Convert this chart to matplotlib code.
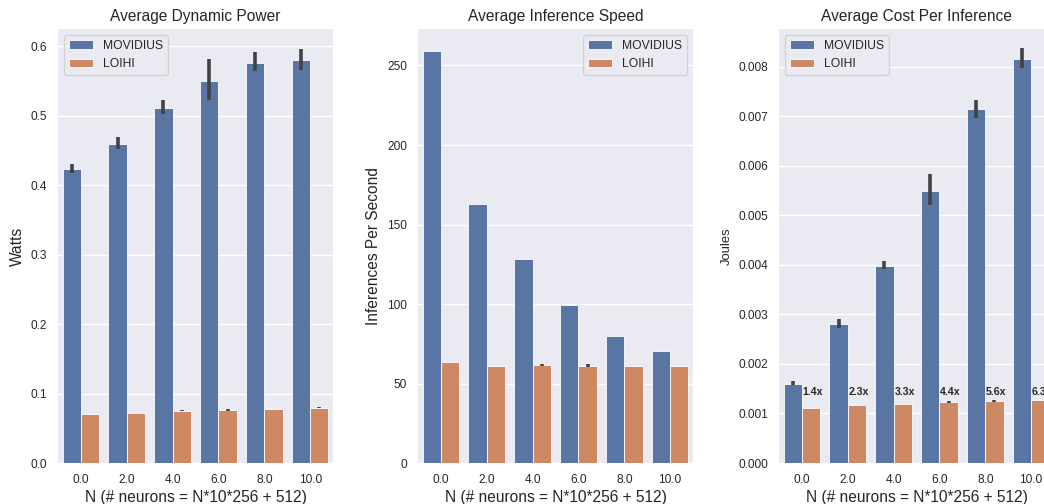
import matplotlib.pyplot as plt
import numpy as np

plt.rcParams['font.family'] = ['Liberation Sans', 'DejaVu Sans']

groups = ['0.0', '2.0', '4.0', '6.0', '8.0', '10.0']
series = ['MOVIDIUS', 'LOIHI']
colors = ['#5875A4', '#CC8963']

# average dynamic power (watts): mean, ci low, ci high
power_mov = [0.4225, 0.459, 0.511, 0.550, 0.576, 0.580]
power_mov_lo = [0.417, 0.452, 0.503, 0.522, 0.564, 0.566]
power_mov_hi = [0.431, 0.469, 0.523, 0.581, 0.592, 0.596]
power_loi = [0.071, 0.0725, 0.075, 0.076, 0.0773, 0.0797]
power_loi_lo = [0.071, 0.0725, 0.0743, 0.0753, 0.0773, 0.0788]
power_loi_hi = [0.071, 0.0725, 0.0762, 0.0772, 0.0773, 0.0810]

# average inference speed (inferences / s)
speed_mov = [259.4, 163.1, 128.3, 99.3, 80.0, 70.3]
speed_loi = [63.8, 61.1, 61.5, 61.1, 61.1, 61.1]
speed_loi_lo = [63.8, 61.1, 61.0, 60.7, 61.1, 61.1]
speed_loi_hi = [63.8, 61.1, 62.5, 62.4, 61.1, 61.1]

# average cost per inference (joules)
cost_mov = [0.001604, 0.002804, 0.003983, 0.005493, 0.007144, 0.008162]
cost_mov_lo = [0.00157, 0.00273, 0.00391, 0.00521, 0.00696, 0.00797]
cost_mov_hi = [0.00166, 0.00290, 0.00408, 0.00583, 0.00733, 0.00837]
cost_loi = [0.001119, 0.00118, 0.0012, 0.001227, 0.001247, 0.001274]
cost_loi_lo = [0.001119, 0.00118, 0.0012, 0.001205, 0.001232, 0.001274]
cost_loi_hi = [0.001119, 0.00118, 0.0012, 0.001250, 0.001268, 0.001274]
ratio_labels = ['1.4x', '2.3x', '3.3x', '4.4x', '5.6x', '6.3x']

fig = plt.figure(figsize=(10.44, 5.04), dpi=100)
w, h, b = 0.2634, 0.861, 0.0813
ax1 = fig.add_axes([0.0556, b, w, h])
ax2 = fig.add_axes([0.4004, b, w, h])
ax3 = fig.add_axes([0.7462, b, w, h])

x = np.arange(len(groups))


def bars(ax, vals, lo, hi, idx):
    pos = x - 0.2 + 0.4 * idx
    ax.bar(pos, vals, width=0.4, color=colors[idx], edgecolor='white',
           linewidth=0.6, label=series[idx], zorder=2)
    if lo is not None:
        v = np.array(vals)
        err = [v - np.array(lo), np.array(hi) - v]
        ax.errorbar(pos, v, yerr=err, fmt='none', ecolor='#424242',
                    elinewidth=2.6, capsize=0, zorder=3)


def style(ax, title, ylabel, ylsize, loc):
    ax.set_facecolor('#EAEAF2')
    for s in ax.spines.values():
        s.set_visible(False)
    ax.grid(axis='y', color='white', linewidth=1.0, zorder=0)
    ax.set_axisbelow(True)
    ax.tick_params(length=0, labelsize=8.6, labelcolor='#262626', pad=8)
    ax.set_xticks(x)
    ax.set_xticklabels(groups)
    ax.set_xlim(-0.5, 5.5)
    ax.set_title(title, fontsize=11.2, color='#262626')
    ax.set_xlabel('N (# neurons = N*10*256 + 512)', fontsize=11.2,
                  color='#262626', labelpad=3)
    ax.set_ylabel(ylabel, fontsize=ylsize, color='#262626')
    leg = ax.legend(loc=loc, fontsize=8.7, facecolor='#EAEAF2',
                    edgecolor='#cccccc', framealpha=0.8)
    for t in leg.get_texts():
        t.set_color('#262626')


bars(ax1, power_mov, power_mov_lo, power_mov_hi, 0)
bars(ax1, power_loi, power_loi_lo, power_loi_hi, 1)
ax1.set_ylim(0, 0.6245)
ax1.set_yticks(np.arange(0, 0.61, 0.1))
ax1.set_yticklabels(['0.0', '0.1', '0.2', '0.3', '0.4', '0.5', '0.6'])
style(ax1, 'Average Dynamic Power', 'Watts', 11.2, 'upper left')

bars(ax2, speed_mov, None, None, 0)
bars(ax2, speed_loi, speed_loi_lo, speed_loi_hi, 1)
ax2.set_ylim(0, 272.9)
ax2.set_yticks([0, 50, 100, 150, 200, 250])
style(ax2, 'Average Inference Speed', 'Inferences Per Second', 11.2, 'upper right')

bars(ax3, cost_mov, cost_mov_lo, cost_mov_hi, 0)
bars(ax3, cost_loi, cost_loi_lo, cost_loi_hi, 1)
ax3.set_ylim(0, 0.00876)
ax3.set_yticks(np.arange(0, 0.0081, 0.001))
ax3.set_yticklabels(['%.3f' % v for v in np.arange(0, 0.0081, 0.001)])
for i, lab in enumerate(ratio_labels):
    ax3.text(x[i] + 0.02, 0.00144, lab, fontsize=7.6, fontweight='bold',
             color='#262626', ha='left', va='center', zorder=4)
style(ax3, 'Average Cost Per Inference', 'Joules', 9.4, 'upper left')

fig.savefig('out.png', dpi=100)
